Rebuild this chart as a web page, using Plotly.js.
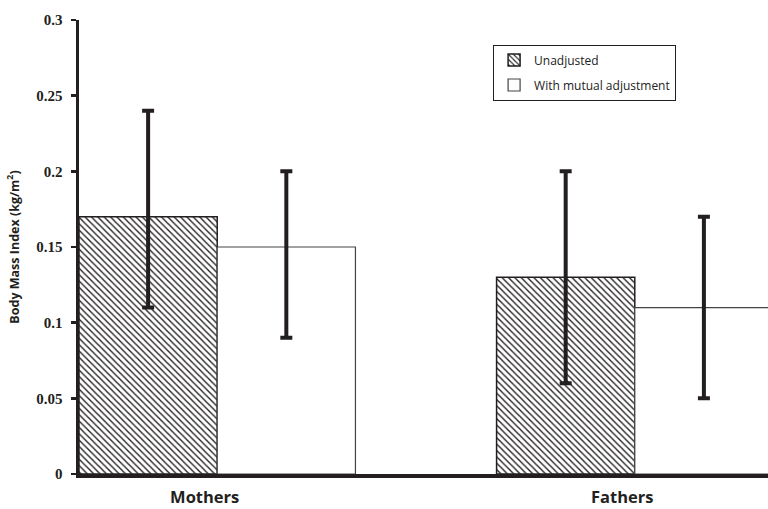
<!DOCTYPE html>
<html><head><meta charset="utf-8">
<script src="https://cdn.plot.ly/plotly-3.0.1.min.js"></script>
<style>html,body{margin:0;padding:0;background:#fff}#c{width:768px;height:509px}</style>
</head><body><div id="c"></div>
<script>
const groups = ["Mothers", "Fathers"];
const groupPos = [0, 1];
const labelPos = [-0.03, 0.97];
const unadjusted = [0.17, 0.13];
const unadjLow = [0.11, 0.06];
const unadjHigh = [0.24, 0.20];
const mutual = [0.15, 0.11];
const mutualLow = [0.09, 0.05];
const mutualHigh = [0.20, 0.17];
const yTicks = [0, 0.05, 0.1, 0.15, 0.2, 0.25, 0.3];
const yTickText = ["0", "0.05", "0.1", "0.15", "0.2", "0.25", "0.3"];

const ink = '#231f20';
const traces = [
  {type:'bar', name:'Unadjusted', x:groupPos, y:unadjusted, legendgroup:'a',
   marker:{color:'#ffffff', line:{color:ink, width:1.5},
           pattern:{shape:'\\', size:4.5, solidity:0.3, fgcolor:ink, bgcolor:'#ffffff'}},
   error_y:{type:'data', symmetric:false,
            array:unadjHigh.map((h,i)=>h-unadjusted[i]),
            arrayminus:unadjusted.map((v,i)=>v-unadjLow[i]),
            color:ink, thickness:4, width:6}},
  {type:'bar', name:'With mutual adjustment', x:groupPos, y:mutual, legendgroup:'b',
   marker:{color:'#ffffff', line:{color:'#444', width:1.2}},
   error_y:{type:'data', symmetric:false,
            array:mutualHigh.map((h,i)=>h-mutual[i]),
            arrayminus:mutual.map((v,i)=>v-mutualLow[i]),
            color:ink, thickness:4, width:6}}
];
const layout = {
  width:768, height:509,
  margin:{l:79, r:0, t:20, b:35},
  paper_bgcolor:'#fff', plot_bgcolor:'#fff',
  barmode:'group', bargap:0.338, bargroupgap:0,
  showlegend:true,
  legend:{x:0.601, y:0.946, xanchor:'left', yanchor:'top',
          bordercolor:ink, borderwidth:1, bgcolor:'#fff',
          font:{family:'Open Sans, sans-serif', size:12, color:'#222'},
          itemwidth:30, tracegroupgap:6, traceorder:'grouped'},
  xaxis:{type:'linear', range:[-0.331, 1.319], showgrid:false, zeroline:false,
         showline:true, linecolor:ink, linewidth:3.5,
         tickvals:labelPos, ticktext:groups, ticks:'', ticklabelstandoff:6,
         tickfont:{family:'Open Sans, sans-serif', size:16.5, color:ink, weight:'bold'}},
  yaxis:{range:[0, 0.3], showgrid:false, zeroline:false,
         showline:true, linecolor:ink, linewidth:3.5,
         tickvals:yTicks, ticktext:yTickText,
         ticks:'outside', ticklen:5, tickwidth:2.5, tickcolor:ink, ticklabelstandoff:5,
         tickfont:{family:'Liberation Serif, serif', size:15, color:ink, weight:'bold'},
         title:{text:'Body Mass Index (kg/m<sup>2</sup>)', standoff:15,
                font:{family:'Open Sans, sans-serif', size:12.5, color:ink, weight:'bold'}}}
};
Plotly.newPlot('c', traces, layout, {staticPlot:true, displayModeBar:false});
</script></body></html>
